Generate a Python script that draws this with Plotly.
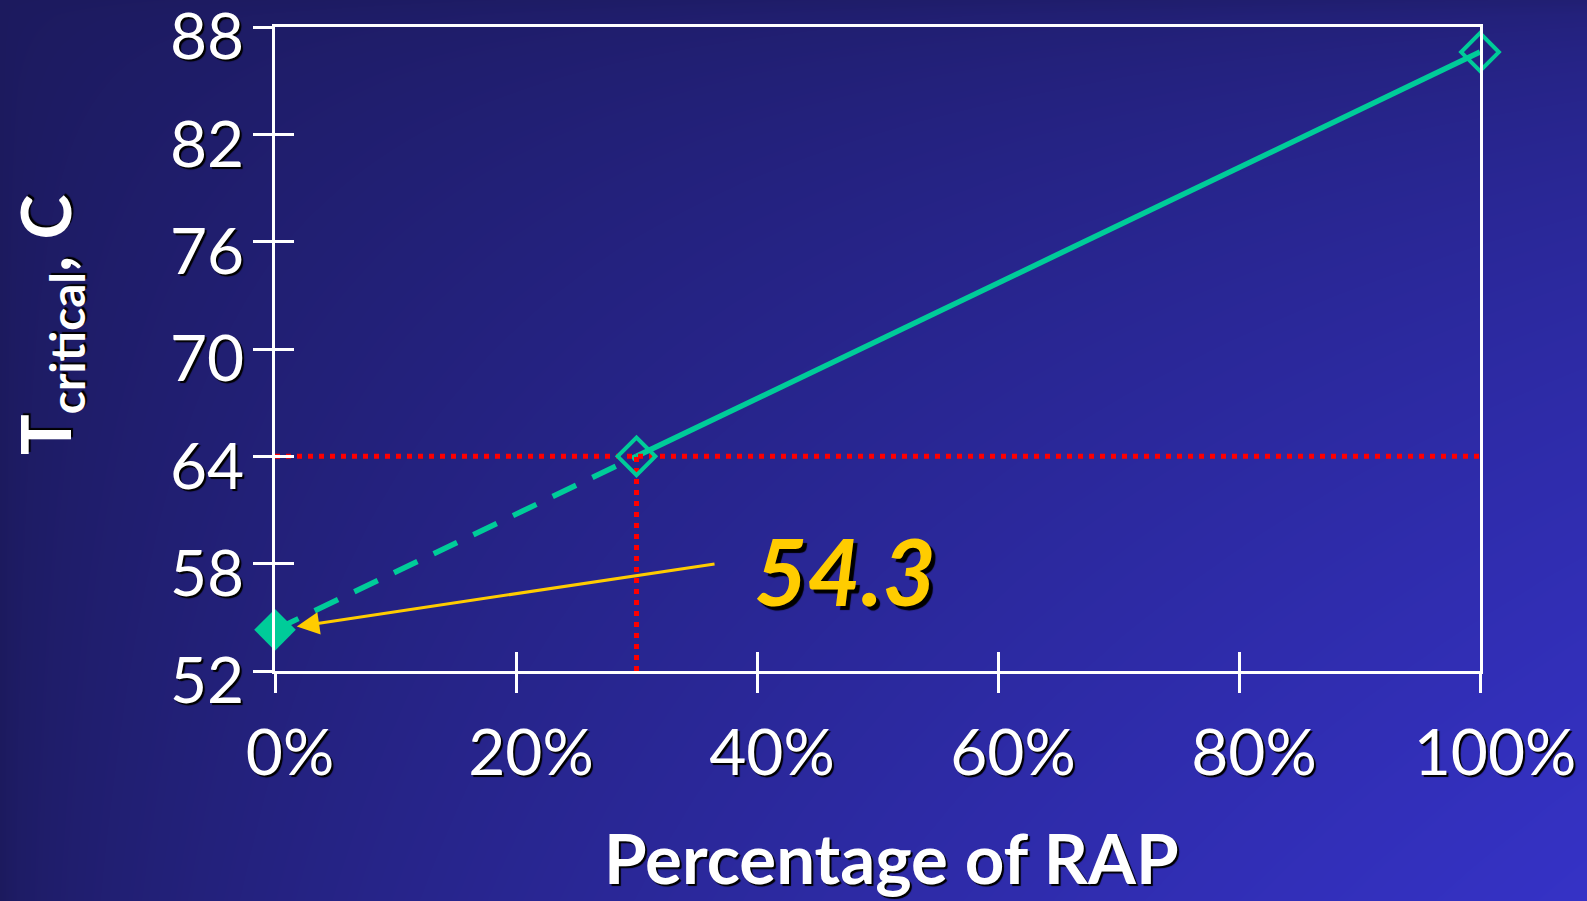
import numpy as np
import plotly.graph_objects as go

# Critical temperature versus share of RAP in the blend
rap_pct = [0, 30, 100]
t_critical = [54.3, 64.0, 86.6]

x_ticks = [0, 20, 40, 60, 80, 100]
y_ticks = [52, 58, 64, 70, 76, 82, 88]

# reference level
ref_x = 30
ref_y = 64

W, H = 1587, 901
GREEN = "#00CC99"
GOLD = "#FFCC00"
FONT = "Lato, 'Comic Sans MS', sans-serif"
SHADOW = "2px 2px 1px #000000"

# plot-area placement in paper fractions
x_dom = [275 / W, 1480 / W]
y_dom = [1 - 671 / H, 1 - 27 / H]

fig = go.Figure()

# slide-style background shading on a full-page hidden subplot
gx = np.linspace(0, 1, 90)
gy = np.linspace(0, 1, 60)
GX, GY = np.meshgrid(gx, gy)
shade = 0.8 * (GX * (1 - GY)) ** 0.55 + 0.2 * GX
fig.add_trace(go.Heatmap(
    x=gx, y=gy, z=shade, zsmooth="best", showscale=False,
    colorscale=[[0, "#1c1a5e"], [1, "#3532c6"]],
    hoverinfo="skip", xaxis="x", yaxis="y",
))

# extrapolated part (dashed) and measured part (solid)
fig.add_trace(go.Scatter(
    x=rap_pct[:2], y=t_critical[:2], mode="lines",
    line=dict(color=GREEN, width=5.5, dash="26px,18px"),
    xaxis="x2", yaxis="y2", cliponaxis=False, hoverinfo="skip",
))
fig.add_trace(go.Scatter(
    x=rap_pct[1:], y=t_critical[1:], mode="lines",
    line=dict(color=GREEN, width=5.5),
    xaxis="x2", yaxis="y2", cliponaxis=False, hoverinfo="skip",
))

# red dotted guide lines at the reference point
fig.add_trace(go.Scatter(
    x=[x_ticks[0], x_ticks[-1]], y=[ref_y, ref_y], mode="lines",
    line=dict(color="#FF0000", width=5, dash="5px,6px"),
    xaxis="x2", yaxis="y2", hoverinfo="skip",
))
fig.add_trace(go.Scatter(
    x=[ref_x, ref_x], y=[y_ticks[0], ref_y], mode="lines",
    line=dict(color="#FF0000", width=5, dash="5px,6px"),
    xaxis="x2", yaxis="y2", hoverinfo="skip",
))

# markers
fig.add_trace(go.Scatter(
    x=rap_pct[:1], y=t_critical[:1], mode="markers",
    marker=dict(symbol="diamond", size=32, color=GREEN),
    xaxis="x2", yaxis="y2", cliponaxis=False, hoverinfo="skip",
))
fig.add_trace(go.Scatter(
    x=rap_pct[1:], y=t_critical[1:], mode="markers",
    marker=dict(symbol="diamond-open", size=29, color=GREEN,
                line=dict(color=GREEN, width=4)),
    xaxis="x2", yaxis="y2", cliponaxis=False, hoverinfo="skip",
))

tick_font = dict(family=FONT, size=64, color="white", shadow=SHADOW)
axis_common = dict(showgrid=False, zeroline=False, linecolor="white",
                   linewidth=3, tickcolor="white", tickwidth=3, ticklen=19,
                   automargin=False, ticklabeloverflow="allow")

fig.update_layout(
    width=W, height=H,
    margin=dict(l=0, r=0, t=0, b=0, pad=0),
    paper_bgcolor="#1c1a5e",
    plot_bgcolor="rgba(0,0,0,0)",
    showlegend=False,
    xaxis=dict(domain=[0, 1], range=[0, 1], visible=False, fixedrange=True,
               automargin=False),
    yaxis=dict(domain=[0, 1], range=[0, 1], visible=False, fixedrange=True,
               automargin=False),
    xaxis2=dict(
        domain=x_dom, anchor="y2", range=[x_ticks[0], x_ticks[-1]],
        tickvals=x_ticks, ticktext=[f"{v}%" for v in x_ticks],
        ticks="outside", showline=True, mirror=True,
        tickfont=tick_font, ticklabelstandoff=5, ticklabelshift=15,
        **axis_common,
    ),
    yaxis2=dict(
        domain=y_dom, anchor="x2", range=[y_ticks[0], y_ticks[-1]],
        tickvals=y_ticks, ticks="outside", showline=True, mirror=True,
        tickfont=tick_font, ticklabelstandoff=-4, ticklabelshift=10,
        **axis_common,
    ),
    # inner halves of the crossing tick marks
    xaxis3=dict(
        overlaying="x2", anchor="y2", side="bottom",
        range=[x_ticks[0], x_ticks[-1]], tickvals=x_ticks,
        ticks="inside", showticklabels=False, showline=False,
        showgrid=False, zeroline=False, tickcolor="white", tickwidth=3,
        ticklen=19, automargin=False,
    ),
    yaxis3=dict(
        overlaying="y2", anchor="x2", side="left",
        range=[y_ticks[0], y_ticks[-1]], tickvals=y_ticks,
        ticks="inside", showticklabels=False, showline=False,
        showgrid=False, zeroline=False, tickcolor="white", tickwidth=3,
        ticklen=19, automargin=False,
    ),
)

# keeps the overlay axes attached to a subplot
fig.add_trace(go.Scatter(
    x=rap_pct[:1], y=t_critical[:1], mode="markers", opacity=0,
    xaxis="x3", yaxis="y3", hoverinfo="skip",
))

annotations = [
    # arrow pointing at the intercept
    dict(x=rap_pct[0], y=t_critical[0], xref="x2", yref="y2",
         ax=36.6, ay=58.0, axref="x2", ayref="y2", text="",
         showarrow=True, arrowhead=2, arrowsize=1.5, arrowwidth=3,
         arrowcolor=GOLD, standoff=22),
    dict(x=47.3, y=57.6, xref="x2", yref="y2", text=f"{t_critical[0]:.1f}",
         showarrow=False, xanchor="center", yanchor="middle",
         font=dict(family=FONT, size=92, color=GOLD, weight="bold",
                   style="italic", shadow="4px 4px 1px #000000")),
    dict(x=891 / W, y=1 - 857 / H, xref="paper", yref="paper",
         text="Percentage of RAP", showarrow=False,
         xanchor="center", yanchor="middle",
         font=dict(family=FONT, size=69, color="white", weight="bold",
                   shadow=SHADOW)),
    dict(x=50 / W, y=1 - 325 / H, xref="paper", yref="paper",
         text="T<sub>critical</sub>, C", showarrow=False, textangle=-90,
         xanchor="center", yanchor="middle",
         font=dict(family=FONT, size=68, color="white", weight="bold",
                   shadow=SHADOW)),
]
fig.update_layout(annotations=annotations)

fig.write_html("out.html")
